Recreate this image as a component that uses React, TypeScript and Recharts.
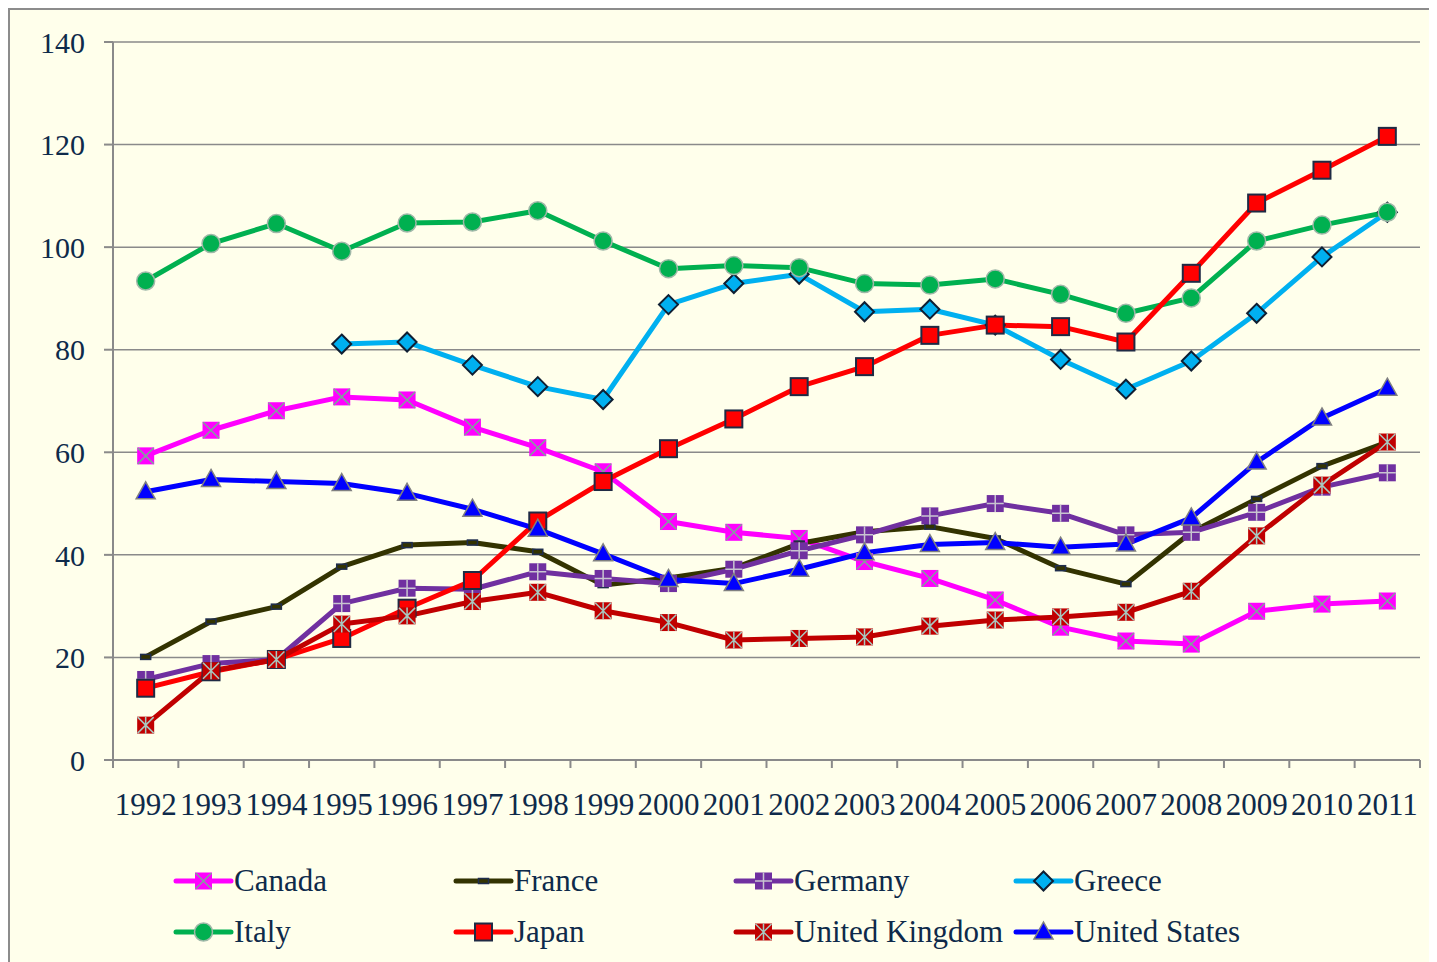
import { LineChart, Line, XAxis, YAxis, CartesianGrid } from 'recharts';

const years = ['1992', '1993', '1994', '1995', '1996', '1997', '1998', '1999', '2000', '2001',
  '2002', '2003', '2004', '2005', '2006', '2007', '2008', '2009', '2010', '2011'];

const canada = [59.3, 64.3, 68.1, 70.8, 70.2, 64.9, 60.9, 56.2, 46.5, 44.4, 43.2, 38.7, 35.4, 31.2, 25.9, 23.2, 22.6, 29.0, 30.4, 31.0];
const france = [20.1, 27.0, 29.9, 37.7, 41.9, 42.4, 40.6, 34.1, 35.5, 37.4, 42.2, 44.5, 45.5, 43.2, 37.4, 34.3, 44.4, 50.9, 57.3, 62.0];
const germany = [15.7, 18.8, 19.6, 30.5, 33.5, 33.3, 36.7, 35.4, 34.4, 37.2, 40.8, 43.9, 47.6, 50.0, 48.1, 43.9, 44.4, 48.3, 53.2, 56.0];
const greece = [null, null, null, 81.1, 81.5, 77.0, 72.8, 70.3, 88.8, 92.9, 94.7, 87.4, 87.9, 84.8, 78.1, 72.3, 77.8, 87.1, 98.1, 106.8];
const italy = [93.4, 100.7, 104.6, 99.2, 104.7, 104.9, 107.1, 101.2, 95.8, 96.4, 96.0, 92.9, 92.6, 93.8, 90.8, 87.1, 90.1, 101.2, 104.3, 106.8];
const japan = [14.0, 17.2, 19.6, 23.7, 29.6, 35.0, 46.6, 54.3, 60.7, 66.5, 72.8, 76.7, 82.8, 84.8, 84.5, 81.5, 94.9, 108.6, 115.0, 121.6];
const unitedKingdom = [6.8, 17.4, 19.6, 26.5, 28.1, 30.9, 32.7, 29.1, 26.8, 23.4, 23.7, 24.0, 26.1, 27.3, 27.9, 28.8, 32.9, 43.7, 53.6, 62.0];
const unitedStates = [52.3, 54.7, 54.3, 53.9, 52.0, 48.9, 45.0, 40.2, 35.2, 34.4, 37.2, 40.4, 42.0, 42.4, 41.5, 42.1, 47.2, 58.1, 66.7, 72.5];

const yTicks = [0, 20, 40, 60, 80, 100, 120, 140];

const FONT = '"Liberation Serif", "Times New Roman", serif';
const TEXT = '#0E2A4A';
const GRID = '#8A8A8A';
const BG = '#FFFFEB';

const W = 1425;
const H = 952;
const LEFT = 103;
const RIGHT = 15;
const HALF = (W - LEFT - RIGHT) / years.length / 2;

type Dot = (cx: number, cy: number) => JSX.Element;

const markers: Record<string, Dot> = {
  canada: (cx, cy) => (
    <g>
      <rect x={cx - 8.5} y={cy - 8.5} width={17} height={17} fill="#FF00FF" />
      <path d={`M${cx - 8} ${cy - 8}L${cx + 8} ${cy + 8}M${cx + 8} ${cy - 8}L${cx - 8} ${cy + 8}`} stroke="#7FA39C" strokeWidth={1.5} />
    </g>
  ),
  france: (cx, cy) => (
    <rect x={cx - 5} y={cy - 2.5} width={10} height={5} fill="#333300" stroke="#1F2D4D" strokeWidth={1.5} />
  ),
  germany: (cx, cy) => (
    <g>
      <rect x={cx - 8.5} y={cy - 8.5} width={17} height={17} fill="#7030A0" />
      <path d={`M${cx} ${cy - 8.5}L${cx} ${cy + 8.5}M${cx - 8.5} ${cy}L${cx + 8.5} ${cy}`} stroke="#C8C4D0" strokeWidth={1.5} />
    </g>
  ),
  greece: (cx, cy) => (
    <polygon points={`${cx},${cy - 9.5} ${cx + 9.5},${cy} ${cx},${cy + 9.5} ${cx - 9.5},${cy}`} fill="#00B0F0" stroke="#0F1F33" strokeWidth={2} />
  ),
  italy: (cx, cy) => (
    <circle cx={cx} cy={cy} r={9} fill="#00B050" stroke="#9FB8A8" strokeWidth={1.5} />
  ),
  japan: (cx, cy) => (
    <rect x={cx - 8.5} y={cy - 8.5} width={17} height={17} fill="#FF0000" stroke="#1F2A44" strokeWidth={2} />
  ),
  unitedKingdom: (cx, cy) => (
    <g>
      <rect x={cx - 8.5} y={cy - 8.5} width={17} height={17} fill="#C00000" />
      <path d={`M${cx - 8} ${cy - 8}L${cx + 8} ${cy + 8}M${cx + 8} ${cy - 8}L${cx - 8} ${cy + 8}M${cx} ${cy - 8.5}L${cx} ${cy + 8.5}`} stroke="#A8C8C0" strokeWidth={1.5} />
    </g>
  ),
  unitedStates: (cx, cy) => (
    <polygon points={`${cx},${cy - 10} ${cx + 9.5},${cy + 7} ${cx - 9.5},${cy + 7}`} fill="#0000FF" stroke="#808080" strokeWidth={1.5} />
  ),
};

const series = [
  { key: 'canada', name: 'Canada', color: '#FF00FF' },
  { key: 'france', name: 'France', color: '#333300' },
  { key: 'germany', name: 'Germany', color: '#7030A0' },
  { key: 'greece', name: 'Greece', color: '#00B0F0' },
  { key: 'italy', name: 'Italy', color: '#00B050' },
  { key: 'japan', name: 'Japan', color: '#FF0000' },
  { key: 'unitedKingdom', name: 'United Kingdom', color: '#C00000' },
  { key: 'unitedStates', name: 'United States', color: '#0000FF' },
];

const data = years.map((year, i) => ({
  year,
  canada: canada[i],
  france: france[i],
  germany: germany[i],
  greece: greece[i],
  italy: italy[i],
  japan: japan[i],
  unitedKingdom: unitedKingdom[i],
  unitedStates: unitedStates[i],
}));

function XTick(props: any) {
  const { x, y, payload } = props;
  const last = payload.value === years[years.length - 1];
  return (
    <g>
      <line x1={x - HALF} x2={x - HALF} y1={y} y2={y + 8} stroke={GRID} strokeWidth={2} />
      {last && <line x1={x + HALF} x2={x + HALF} y1={y} y2={y + 8} stroke={GRID} strokeWidth={2} />}
      <text x={x} y={y + 55} textAnchor="middle" fill={TEXT} fontSize={31} fontFamily={FONT}>
        {payload.value}
      </text>
    </g>
  );
}

function makeDot(key: string) {
  return (p: any) => {
    if (p.cx == null || p.cy == null || p.value == null) return <g key={`${key}-${p.index}`} />;
    return <g key={`${key}-${p.index}`}>{markers[key](p.cx, p.cy)}</g>;
  };
}

function LegendIcon({ k, color }: { k: string; color: string }) {
  return (
    <svg width={61} height={24} style={{ display: 'block', flex: 'none' }}>
      <line x1={3} x2={58} y1={12} y2={12} stroke={color} strokeWidth={5} strokeLinecap="round" />
      {markers[k](30.5, 12)}
    </svg>
  );
}

export default function App() {
  return (
    <div
      style={{
        position: 'relative',
        width: W,
        height: H,
        border: '2px solid #8C8C8C',
        borderBottom: 'none',
        background: BG,
      }}
    >
      <LineChart width={W} height={H} data={data} margin={{ top: 32, right: RIGHT, left: 3, bottom: 142 }}>
        <CartesianGrid vertical={false} stroke={GRID} strokeWidth={1.5} />
        <XAxis
          dataKey="year"
          height={60}
          padding={{ left: HALF, right: HALF }}
          axisLine={{ stroke: GRID, strokeWidth: 2 }}
          tickLine={false}
          tickSize={0}
          tickMargin={0}
          interval={0}
          tick={<XTick />}
        />
        <YAxis
          width={100}
          domain={[0, 140]}
          ticks={yTicks}
          interval={0}
          axisLine={{ stroke: GRID, strokeWidth: 2 }}
          tickLine={{ stroke: GRID, strokeWidth: 2 }}
          tickSize={9}
          tickMargin={19}
          tick={{ fill: TEXT, fontSize: 30, fontFamily: FONT }}
        />
        {series.map(s => (
          <Line
            key={s.key}
            dataKey={s.key}
            name={s.name}
            stroke={s.color}
            strokeWidth={5}
            strokeLinejoin="round"
            dot={makeDot(s.key)}
            activeDot={false}
            isAnimationActive={false}
          />
        ))}
      </LineChart>
      <div
        style={{
          position: 'absolute',
          left: 163,
          top: 845,
          display: 'grid',
          gridTemplateColumns: 'repeat(4, 280px)',
          fontFamily: FONT,
          fontSize: 31,
          color: TEXT,
        }}
      >
        {series.map(s => (
          <div key={s.key} style={{ display: 'flex', alignItems: 'center', height: 51, whiteSpace: 'nowrap' }}>
            <LegendIcon k={s.key} color={s.color} />
            <span style={{ lineHeight: 1 }}>{s.name}</span>
          </div>
        ))}
      </div>
    </div>
  );
}
